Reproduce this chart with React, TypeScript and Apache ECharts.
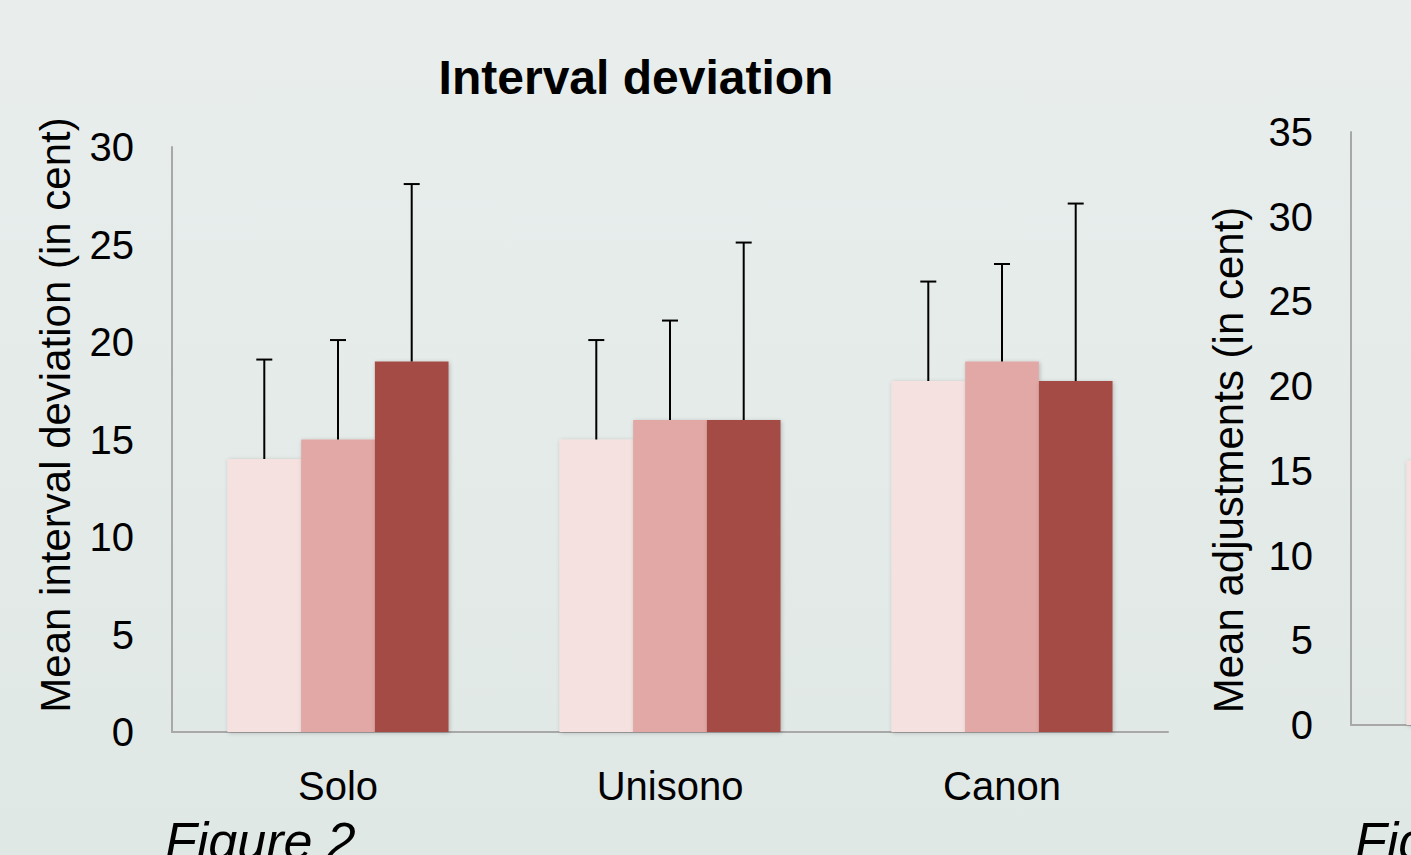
import React, { useEffect, useRef } from "react";
import * as echarts from "echarts";

const categories = ["Solo", "Unisono", "Canon"];
const meansLight = [14, 15, 18];
const meansMid = [15, 16, 19];
const meansDark = [19, 16, 18];
const upperLight = [19.1, 20.1, 23.1];
const upperMid = [20.1, 21.1, 24.0];
const upperDark = [28.1, 25.1, 27.1];

const rightCategories = ["Solo", "Unisono", "Canon"];
const rightMeansLight = [15.6, null, null];

const leftTicks = { min: 0, max: 30, interval: 5 };
const rightTicks = { min: 0, max: 35, interval: 5 };

const colors = ["#f5e1e0", "#e2a8a6", "#a54b45"];
const FONT = "'Liberation Sans', Arial, sans-serif";
const GAP = 0.334;

function errorSeries(means: number[], uppers: number[], k: number) {
  return {
    type: "custom",
    xAxisIndex: 0,
    yAxisIndex: 0,
    z: 5,
    encode: { x: 0, y: [1, 2] },
    data: means.map((m, i) => [i, m, uppers[i]]),
    renderItem: (params: any, api: any) => {
      const ci = api.value(0);
      const lo = api.value(1);
      const hi = api.value(2);
      const base = api.coord([ci, lo]);
      const top = api.coord([ci, hi]);
      const band = api.size([1, 0])[0];
      const bw = (band * (1 - GAP)) / 3;
      const x = base[0] + (k - 1) * bw;
      return {
        type: "group",
        children: [
          { type: "line", shape: { x1: x, y1: base[1], x2: x, y2: top[1] }, style: { stroke: "#000", lineWidth: 2 } },
          { type: "line", shape: { x1: x - 8, y1: top[1], x2: x + 8, y2: top[1] }, style: { stroke: "#000", lineWidth: 2 } },
        ],
      };
    },
  };
}

const barShadow = {
  shadowBlur: 4,
  shadowColor: "rgba(0,0,0,0.22)",
  shadowOffsetX: 1,
  shadowOffsetY: 1,
};

export default function App() {
  const ref = useRef<HTMLDivElement>(null);
  useEffect(() => {
    if (!ref.current) return;
    const chart = echarts.init(ref.current, null, { renderer: "svg" });
    const axisLine = { show: true, lineStyle: { color: "#a8a8a8", width: 2 } };
    chart.setOption({
      animation: false,
      backgroundColor: "transparent",
      textStyle: { fontFamily: FONT },
      grid: [
        { left: 172, top: 147, width: 996, height: 585, outerBoundsMode: "none", containLabel: false },
        { left: 1351, top: 132, width: 996, height: 593, outerBoundsMode: "none", containLabel: false },
      ],
      xAxis: [
        {
          type: "category",
          gridIndex: 0,
          data: categories,
          axisLine,
          axisTick: { show: false },
          axisLabel: { color: "#000", fontSize: 40, fontFamily: FONT, margin: 34 },
        },
        {
          type: "category",
          gridIndex: 1,
          data: rightCategories,
          axisLine,
          axisTick: { show: false },
          axisLabel: { show: false },
        },
      ],
      yAxis: [
        {
          type: "value",
          gridIndex: 0,
          min: leftTicks.min,
          max: leftTicks.max,
          interval: leftTicks.interval,
          axisLine,
          axisTick: { show: false },
          splitLine: { show: false },
          axisLabel: { color: "#000", fontSize: 40, fontFamily: FONT, margin: 38 },
        },
        {
          type: "value",
          gridIndex: 1,
          min: rightTicks.min,
          max: rightTicks.max,
          interval: rightTicks.interval,
          axisLine,
          axisTick: { show: false },
          splitLine: { show: false },
          axisLabel: { color: "#000", fontSize: 40, fontFamily: FONT, margin: 38 },
        },
      ],
      series: [
        { type: "bar", xAxisIndex: 0, yAxisIndex: 0, data: meansLight, barGap: "0%", barCategoryGap: "33.4%", itemStyle: { color: colors[0], ...barShadow } },
        { type: "bar", xAxisIndex: 0, yAxisIndex: 0, data: meansMid, barGap: "0%", barCategoryGap: "33.4%", itemStyle: { color: colors[1], ...barShadow } },
        { type: "bar", xAxisIndex: 0, yAxisIndex: 0, data: meansDark, barGap: "0%", barCategoryGap: "33.4%", itemStyle: { color: colors[2], ...barShadow } },
        errorSeries(meansLight, upperLight, 0),
        errorSeries(meansMid, upperMid, 1),
        errorSeries(meansDark, upperDark, 2),
        { type: "bar", xAxisIndex: 1, yAxisIndex: 1, data: rightMeansLight, barGap: "0%", barCategoryGap: "33.4%", itemStyle: { color: colors[0], ...barShadow } },
        { type: "bar", xAxisIndex: 1, yAxisIndex: 1, data: [null, null, null], barGap: "0%", barCategoryGap: "33.4%", itemStyle: { color: colors[1] } },
        { type: "bar", xAxisIndex: 1, yAxisIndex: 1, data: [null, null, null], barGap: "0%", barCategoryGap: "33.4%", itemStyle: { color: colors[2] } },
      ],
      graphic: [
        {
          type: "text",
          x: 636,
          y: 77,
          style: { text: "Interval deviation", fontSize: 48, fontWeight: "bold", fontFamily: FONT, fill: "#000", align: "center", verticalAlign: "middle" },
        },
        {
          type: "text",
          x: 55,
          y: 415,
          rotation: Math.PI / 2,
          style: { text: "Mean interval deviation (in cent)", fontSize: 42, fontFamily: FONT, fill: "#000", align: "center", verticalAlign: "middle" },
        },
        {
          type: "text",
          x: 1228,
          y: 460,
          rotation: Math.PI / 2,
          style: { text: "Mean adjustments (in cent)", fontSize: 42, fontFamily: FONT, fill: "#000", align: "center", verticalAlign: "middle" },
        },
        {
          type: "text",
          x: 165,
          y: 841,
          style: { text: "Figure 2", fontSize: 52, fontStyle: "italic", fontFamily: FONT, fill: "#000", align: "left", verticalAlign: "middle" },
        },
        {
          type: "text",
          x: 1355,
          y: 841,
          style: { text: "Figure 3", fontSize: 52, fontStyle: "italic", fontFamily: FONT, fill: "#000", align: "left", verticalAlign: "middle" },
        },
      ],
    });
    return () => chart.dispose();
  }, []);
  return (
    <div
      ref={ref}
      style={{
        position: "absolute",
        left: 0,
        top: 0,
        width: 1411,
        height: 855,
        overflow: "hidden",
        background: "linear-gradient(180deg, #e9eeed 0%, #e4ebe9 50%, #e0e8e6 100%)",
      }}
    />
  );
}
